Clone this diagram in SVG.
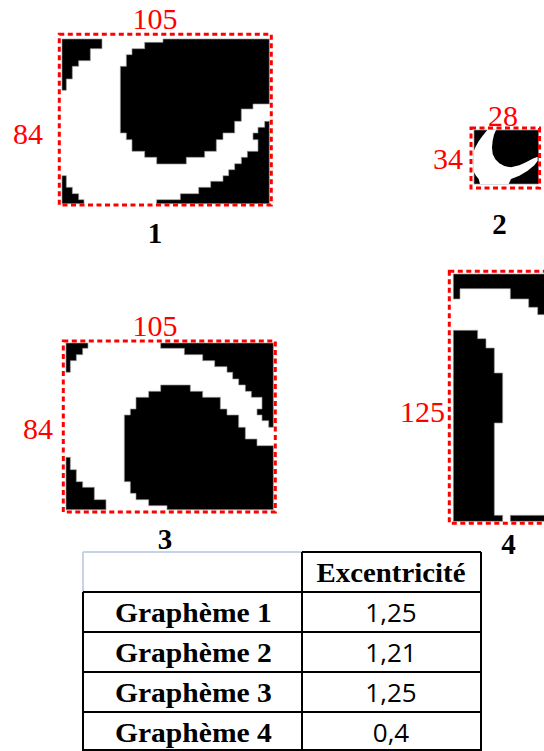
<svg xmlns="http://www.w3.org/2000/svg" width="544" height="751" viewBox="0 0 544 751">
<style>
.px{fill:#000;stroke:#9a9a9a;stroke-width:2}
.box{fill:none;stroke:#ff0000;stroke-width:3;stroke-dasharray:5 3.5}
.dim{font-family:"Liberation Serif",serif;font-size:30px;fill:#ff0000}
.num{font-family:"Liberation Serif",serif;font-weight:bold;font-size:29px;fill:#000;text-anchor:middle}
.th{font-family:"Liberation Serif",serif;font-weight:bold;font-size:28px;fill:#000;text-anchor:middle}
.val{font-family:"Open Sans","Liberation Sans",sans-serif;font-size:26px;fill:#000;text-anchor:middle}
.dk{stroke:#000;stroke-width:2;fill:none}
.lt{stroke:#c5d3e8;stroke-width:2;fill:none}
</style>
<rect width="544" height="751" fill="#fff"/>

<g id="grapheme1">
  <g transform="translate(58,33) scale(0.33333)">
    <polygon class="px" points="12,18 132,18 132,47 97,47 97,83 62,83 62,100 43,100 43,138 25,138 25,172 12,172"/>
    <polygon class="px" points="315,18 634,18 634,213 585,213 585,228 550,228 550,265 530,265 530,300 495,300 495,320 475,320 475,355 440,355 440,373 385,373 385,393 296,393 296,373 260,373 260,355 222,355 222,320 205,320 205,300 187,300 187,100 205,100 205,65 222,65 222,47 260,47 260,28 315,28"/>
    <polygon class="px" points="620,265 634,265 634,512 296,512 296,500 367,500 367,482 422,482 422,463 458,463 458,445 495,445 495,428 512,428 512,410 530,410 530,392 550,392 550,373 568,373 568,355 600,355 600,320 585,320 585,300 600,300 600,283 620,283"/>
    <polygon class="px" points="12,428 25,428 25,463 43,463 43,482 62,482 62,500 78,500 78,512 12,512"/>
  </g>
  <rect class="box" x="59.3" y="34.3" width="212" height="170.7"/>
  <text class="dim" x="155" y="29" text-anchor="middle">105</text>
  <text class="dim" x="43" y="144" text-anchor="end">84</text>
  <text class="num" x="155" y="243">1</text>
</g>

<g id="grapheme2">
  <g transform="translate(466,124) scale(0.33333)">
    <rect x="24" y="18" width="194" height="162" fill="#000" stroke="#9a9a9a" stroke-width="2"/>
    <polygon fill="#fff" points="64,18 90,18 84,32 80,50 78,70 80,90 88,106 100,118 115,126 135,130 160,124 180,115 200,104 215,98 215,110 205,124 185,140 160,155 135,165 128,180 42,180 38,165 30,155 24,145 24,80 28,70 38,52 50,35"/>
  </g>
  <rect class="box" x="471" y="128" width="68.5" height="60"/>
  <text class="dim" x="503" y="126" text-anchor="middle">28</text>
  <text class="dim" x="463" y="169" text-anchor="end">34</text>
  <text class="num" x="499.5" y="234">2</text>
</g>

<g id="grapheme3">
  <g transform="translate(62,339) scale(0.33333)">
    <polygon class="px" points="12,12 78,12 78,28 62,28 62,47 43,47 43,65 25,65 25,100 12,100"/>
    <polygon class="px" points="296,12 634,12 634,265 620,265 620,245 600,245 600,228 585,228 585,210 600,210 600,175 568,175 568,157 550,157 550,138 530,138 530,120 512,120 512,100 495,100 495,83 458,83 458,65 422,65 422,47 367,47 367,28 296,28"/>
    <polygon class="px" points="296,138 385,138 385,157 422,157 422,175 475,175 475,210 495,210 495,228 530,228 530,265 550,265 550,300 585,300 585,320 634,320 634,512 315,512 315,500 260,500 260,482 222,482 222,463 205,463 205,428 187,428 187,228 205,228 205,210 222,210 222,175 260,175 260,157 296,157"/>
    <polygon class="px" points="12,355 25,355 25,392 43,392 43,428 62,428 62,445 97,445 97,482 132,482 132,512 12,512"/>
  </g>
  <rect class="box" x="63.3" y="341" width="212" height="171"/>
  <text class="dim" x="155" y="336" text-anchor="middle">105</text>
  <text class="dim" x="53" y="439" text-anchor="end">84</text>
  <text class="num" x="165" y="549">3</text>
</g>

<g id="grapheme4">
  <g transform="translate(446,268) scale(0.33333)">
    <polygon class="px" points="22,18 310,18 310,140 275,140 275,118 248,118 248,93 193,93 193,62 42,62 42,93 22,93"/>
    <polygon class="px" points="22,187 95,187 95,212 120,212 120,240 145,240 145,315 170,315 170,465 145,465 145,742 170,742 170,760 22,760"/>
    <polygon class="px" points="193,742 310,742 310,760 193,760"/>
  </g>
  <rect class="box" x="449.3" y="271.3" width="120" height="252"/>
  <text class="dim" x="445" y="422" text-anchor="end">125</text>
  <text class="num" x="508.5" y="554">4</text>
</g>

<g id="table">
  <path class="lt" d="M83,552 H302 M83,552 V592"/>
  <path class="dk" d="M302,552 H481 M302,552 V751 M481,552 V751 M83,592 V751 M83,592 H481 M83,632 H481 M83,672 H481 M83,712 H481 M83,750 H481"/>
  <text class="th" x="391" y="582" textLength="149" lengthAdjust="spacingAndGlyphs">Excentricité</text>
  <text class="th" x="193.4" y="622" textLength="157" lengthAdjust="spacingAndGlyphs">Graphème 1</text>
  <text class="th" x="193.4" y="662" textLength="157" lengthAdjust="spacingAndGlyphs">Graphème 2</text>
  <text class="th" x="193.4" y="702" textLength="157" lengthAdjust="spacingAndGlyphs">Graphème 3</text>
  <text class="th" x="193.4" y="742" textLength="157" lengthAdjust="spacingAndGlyphs">Graphème 4</text>
  <text class="val" x="391" y="622">1,25</text>
  <text class="val" x="391" y="662">1,21</text>
  <text class="val" x="391" y="702">1,25</text>
  <text class="val" x="391" y="742">0,4</text>
</g>
</svg>
